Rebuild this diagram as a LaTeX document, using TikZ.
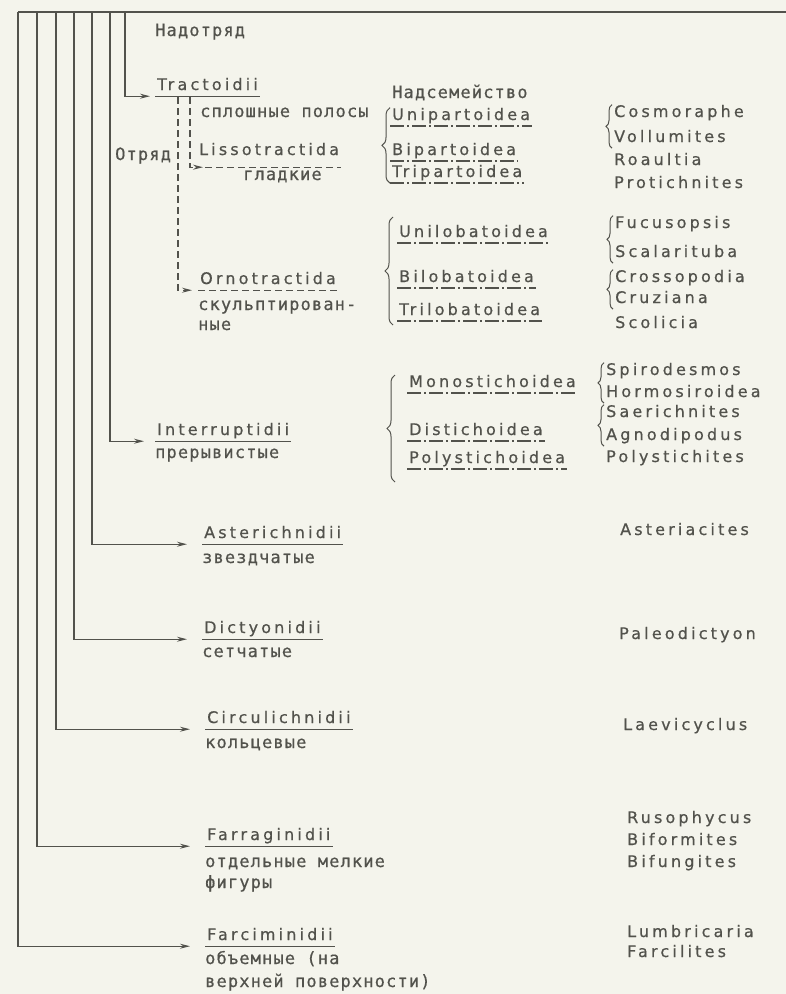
\documentclass[tikz,border=0pt]{standalone}
\usepackage{fontspec}
\usetikzlibrary{arrows.meta,decorations.pathreplacing}
\newfontfamily\latfont[LetterSpace=20,FakeBold=0.6]{DejaVu Sans}
\newfontfamily\cyrfont[LetterSpace=7,FakeBold=0.6]{DejaVu Sans Mono}
\newcommand\latf{\latfont\fontsize{16}{18}\selectfont}
\newcommand\cyrf{\cyrfont\fontsize{17}{19}\selectfont}
\definecolor{ink}{HTML}{52524C}
\definecolor{paper}{HTML}{F4F4EC}
\tikzset{
  taxon/.style={font=\latf, text=ink, anchor=base west, inner xsep=2bp, inner ysep=0pt, text depth=6bp},
  word/.style={font=\cyrf, text=ink, anchor=base west, inner sep=0pt},
  ln/.style={draw=ink, line width=1.2bp},
  arr/.style={ln, -{Stealth[length=10bp,width=5bp]}},
  dashln/.style={ln, dash pattern=on 7bp off 4bp},
  sfline/.style={draw=ink, line width=1.7bp, dash pattern=on 14bp off 3bp on 2bp off 3bp},
  brc/.style={draw=ink, line width=1bp, decorate, decoration={brace, amplitude=8bp}},
  gbrc/.style={draw=ink, line width=1bp, decorate, decoration={brace, amplitude=6bp}}
}
\begin{document}
\begin{tikzpicture}[x=1bp,y=-1bp]
\fill[paper] (0,0) rectangle (786,994);
\useasboundingbox (0,0) rectangle (786,994);

\coordinate (v1) at (18,12);
\coordinate (v2) at (37,12);
\coordinate (v3) at (56,12);
\coordinate (v4) at (74,12);
\coordinate (v5) at (92,12);
\coordinate (v6) at (110,12);
\coordinate (v7) at (125,12);
\coordinate (vend) at (786,12);
\draw[ln] (v1) -- (vend);

\node[word] (nadotr) at (155,36) {Надотряд};
\node[taxon] (tract) at (155,90) {Tractoidii};
\draw[ln] (tract.south west) -- (tract.south east);

\node[word] (sploshn) at (200,117) {сплошные полосы};
\node[word] (otryad) at (115,160) {Отряд};
\node[taxon, text depth=12bp] (lisso) at (197,155) {Lissotractida};
\node[word] (gladk) at (243,180) {гладкие};
\node[taxon] (orno) at (198,284) {Ornotractida};
\node[word] (skulpt) at (198,310) {скульптирован-};
\node[word] (skulpt2) at (198,330) {ные};

\coordinate (da) at (178,97);
\coordinate (db) at (190,97);
\draw[dashln,arr] (db) |- ([xshift=6bp]lisso.south west);
\draw[dashln] ([xshift=8bp]lisso.south west) -- (lisso.south east);
\draw[dashln,arr] (da) |- ([xshift=-6bp]orno.south west);
\draw[dashln] (orno.south west) -- (orno.south east);

\node[word] (nadsem) at (392,98) {Надсемейство};
\node[taxon] (unipart) at (390,120) {Unipartoidea};
\node[taxon] (bipart) at (390,155) {Bipartoidea};
\node[taxon] (tripart) at (390,177) {Tripartoidea};
\node[taxon] (unilob) at (397,237) {Unilobatoidea};
\node[taxon] (bilob) at (397,282) {Bilobatoidea};
\node[taxon] (trilob) at (397,315) {Trilobatoidea};
\node[taxon] (monost) at (407,387) {Monostichoidea};
\node[taxon] (distich) at (407,435) {Distichoidea};
\node[taxon] (polyst) at (407,463) {Polystichoidea};
\foreach \s in {unipart,bipart,tripart,unilob,bilob,trilob,monost,distich,polyst}
  \draw[sfline] (\s.south west) -- (\s.south east);

\draw[brc] (tripart.south west) -- (unipart.north west);
\coordinate (b2t) at (393,217);
\coordinate (b2b) at (393,325);
\draw[brc] (b2b) -- (b2t);
\coordinate (b3t) at (395,375);
\coordinate (b3b) at (395,482);
\draw[brc] (b3b) -- (b3t);

\node[taxon] (cosmo) at (612,117) {Cosmoraphe};
\node[taxon] (vollum) at (612,142) {Vollumites};
\node[taxon] (roault) at (612,165) {Roaultia};
\node[taxon] (protich) at (612,188) {Protichnites};
\node[taxon] (fucus) at (613,228) {Fucusopsis};
\node[taxon] (scalar) at (613,257) {Scalarituba};
\node[taxon] (crosso) at (613,282) {Crossopodia};
\node[taxon] (cruz) at (613,303) {Cruziana};
\node[taxon] (scolic) at (613,328) {Scolicia};
\node[taxon] (spiro) at (604,375) {Spirodesmos};
\node[taxon] (hormo) at (604,397) {Hormosiroidea};
\node[taxon] (saer) at (604,417) {Saerichnites};
\node[taxon] (agno) at (604,440) {Agnodipodus};
\node[taxon] (polystg) at (604,462) {Polystichites};

\draw[gbrc] (vollum.south west) -- (cosmo.north west);
\draw[gbrc] (scalar.south west) -- (fucus.north west);
\draw[gbrc] (cruz.south west) -- (crosso.north west);
\draw[gbrc] (hormo.south west) -- (spiro.north west);
\draw[gbrc] (agno.south west) -- (saer.north west);

\node[taxon] (interr) at (155,435) {Interruptidii};
\draw[ln] (interr.south west) -- (interr.south east);
\node[word] (preryv) at (155,458) {прерывистые};

\node[taxon] (aster) at (202,538) {Asterichnidii};
\draw[ln] (aster.south west) -- (aster.south east);
\node[word] (zvezd) at (202,563) {звездчатые};
\node[taxon] (asteri) at (618,535) {Asteriacites};

\node[taxon] (dict) at (202,633) {Dictyonidii};
\draw[ln] (dict.south west) -- (dict.south east);
\node[word] (setch) at (202,657) {сетчатые};
\node[taxon] (paleo) at (617,639) {Paleodictyon};

\node[taxon] (circ) at (205,723) {Circulichnidii};
\draw[ln] (circ.south west) -- (circ.south east);
\node[word] (kolts) at (205,748) {кольцевые};
\node[taxon] (laevi) at (621,730) {Laevicyclus};

\node[taxon] (farrag) at (205,840) {Farraginidii};
\draw[ln] (farrag.south west) -- (farrag.south east);
\node[word] (otdel) at (205,867) {отдельные мелкие};
\node[word] (figur) at (205,888) {фигуры};
\node[taxon] (ruso) at (625,823) {Rusophycus};
\node[taxon] (bifor) at (625,845) {Biformites};
\node[taxon] (bifun) at (625,867) {Bifungites};

\node[taxon] (farcim) at (205,940) {Farciminidii};
\draw[ln] (farcim.south west) -- (farcim.south east);
\node[word] (obem) at (205,964) {объемные (на};
\node[word] (verkh) at (205,987) {верхней поверхности)};
\node[taxon] (lumbr) at (625,937) {Lumbricaria};
\node[taxon] (farcil) at (625,957) {Farcilites};

\draw[arr] (v7) |- ([xshift=-5bp]tract.south west);
\draw[arr] (v6) |- ([xshift=-11bp]interr.south west);
\draw[arr] (v5) |- ([xshift=-15bp]aster.south west);
\draw[arr] (v4) |- ([xshift=-15bp]dict.south west);
\draw[arr] (v3) |- ([xshift=-15bp]circ.south west);
\draw[arr] (v2) |- ([xshift=-15bp]farrag.south west);
\draw[arr] (v1) |- ([xshift=-15bp]farcim.south west);
\end{tikzpicture}
\end{document}
